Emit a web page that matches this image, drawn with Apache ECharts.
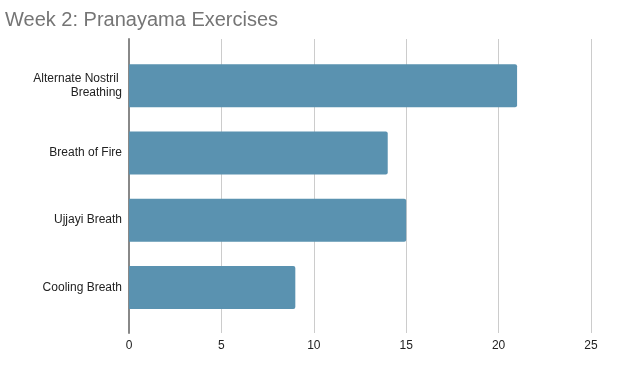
<!DOCTYPE html>
<html><head><meta charset="utf-8">
<script src="https://cdn.jsdelivr.net/npm/echarts@6/dist/echarts.min.js"></script>
<style>html,body{margin:0;padding:0;background:#fff}#c{width:626px;height:389px}</style>
</head><body><div id="c"></div>
<script>
const titleText = "Week 2: Pranayama Exercises";
const categories = ["Alternate Nostril Breathing", "Breath of Fire", "Ujjayi Breath", "Cooling Breath"];
const values = [21, 14, 15, 9];
const xTicks = [0, 5, 10, 15, 20, 25];

const chart = echarts.init(document.getElementById('c'), null, {renderer: 'canvas'});
const font = 'Arial, "Liberation Sans", sans-serif';
chart.setOption({
  animation: false,
  backgroundColor: '#fff',
  title: {text: titleText, left: 0, top: 5, textStyle: {fontFamily: font, fontSize: 20, fontWeight: 'normal', color: '#757575'}},
  grid: [
    {left: 129, right: 35, top: 39, bottom: 56, containLabel: false},
    {left: 129, right: 35, top: 52, bottom: 68, containLabel: false}
  ],
  xAxis: [
    {gridIndex: 0, type: 'value', min: xTicks[0], max: xTicks[xTicks.length-1], interval: 5,
     axisLine: {show: false}, axisTick: {show: false},
     splitLine: {lineStyle: {color: '#cccccc', width: 1}},
     axisLabel: {margin: 7, fontFamily: font, fontSize: 12, color: '#222'}},
    {gridIndex: 1, type: 'value', min: xTicks[0], max: xTicks[xTicks.length-1], interval: 5, show: false}
  ],
  yAxis: [
    {gridIndex: 0, type: 'category', data: [''], axisTick: {show: false}, axisLabel: {show: false},
     axisLine: {show: true, lineStyle: {color: '#888', width: 2}}},
    {gridIndex: 1, type: 'category', data: categories, inverse: true,
     axisLine: {show: false}, axisTick: {show: false},
     axisLabel: {margin: 7, fontFamily: font, fontSize: 12, color: '#222', lineHeight: 14,
       width: 105, overflow: 'break'}}
  ],
  series: [{
    type: 'bar', xAxisIndex: 1, yAxisIndex: 1, data: values,
    barWidth: 43, itemStyle: {color: '#5a92b0', borderRadius: [0, 2, 2, 0]}
  }]
});
</script></body></html>
